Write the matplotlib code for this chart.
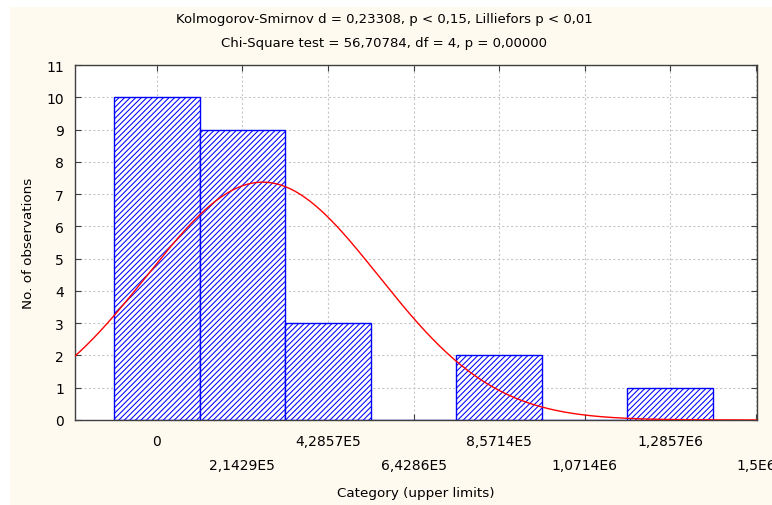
import numpy as np
import matplotlib
matplotlib.use("Agg")
import matplotlib.pyplot as plt
from matplotlib.patches import Rectangle

# histogram: bin centres (category upper limits) and counts
bin_width = 214286
centers = [0, 214286, 428571, 642857, 857143, 1071429, 1285714]
counts = [10, 9, 3, 0, 2, 0, 1]
tick_vals = [0, 214286, 428571, 642857, 857143, 1071429, 1285714, 1500000]
tick_labels = ["0", "2,1429E5", "4,2857E5", "6,4286E5", "8,5714E5",
               "1,0714E6", "1,2857E6", "1,5E6"]

# fitted normal
n_obs = 25
fit_mean = 265000
fit_sd = 290000

plt.rcParams["hatch.linewidth"] = 0.75
plt.rcParams["hatch.color"] = "#0000ff"
cream = "#fffaef"

fig = plt.figure(figsize=(7.72, 5.06), dpi=100)
fig.patch.set_facecolor("white")
fig.patches.append(Rectangle((10 / 772, 0), 1, 1 - 8 / 506, transform=fig.transFigure,
                             facecolor=cream, edgecolor="none", zorder=-10))

ax = fig.add_axes([75 / 772, 1 - 421 / 506, (757 - 75) / 772, (421 - 66) / 506])
ax.set_facecolor("white")

ax.bar(centers, counts, width=bin_width, facecolor="white", edgecolor="#0000ff",
       hatch="//////", linewidth=1.0, zorder=2)

xs = np.linspace(-210000, 1510000, 400)
ys = n_obs * bin_width / (fit_sd * np.sqrt(2 * np.pi)) * np.exp(-0.5 * ((xs - fit_mean) / fit_sd) ** 2)
ax.plot(xs, ys, color="#ff0000", linewidth=1.0, zorder=3)

ax.set_xlim(-205000, 1503000)
ax.set_ylim(0, 11)
ax.set_yticks(range(0, 12))
ax.set_xticks(tick_vals)
labels = [lab if i % 2 == 0 else "\n" + lab for i, lab in enumerate(tick_labels)]
ax.set_xticklabels(labels, linespacing=1.9)
ax.tick_params(direction="in", top=True, right=True, length=4, color="#404040",
               labelsize=10, labelcolor="#000000")
ax.tick_params(axis="x", pad=10)
ax.tick_params(axis="y", pad=8)
ax.grid(True, color="#c8c8c8", linestyle=(0, (2, 2)), linewidth=0.8, zorder=0)
ax.set_axisbelow(True)
for s in ax.spines.values():
    s.set_color("#404040")
    s.set_linewidth(1.0)

ax.set_xlabel("Category (upper limits)", fontsize=9.7, labelpad=10)
ax.set_ylabel("No. of observations", fontsize=9.7, labelpad=8)
fig.text(0.498, 1 - 20 / 506, "Kolmogorov-Smirnov d = 0,23308, p < 0,15, Lilliefors p < 0,01",
         ha="center", va="center", fontsize=9.5)
fig.text(0.498, 1 - 43 / 506, "Chi-Square test = 56,70784, df = 4, p = 0,00000",
         ha="center", va="center", fontsize=9.5)

fig.savefig("out.png", dpi=100, facecolor=fig.get_facecolor())
